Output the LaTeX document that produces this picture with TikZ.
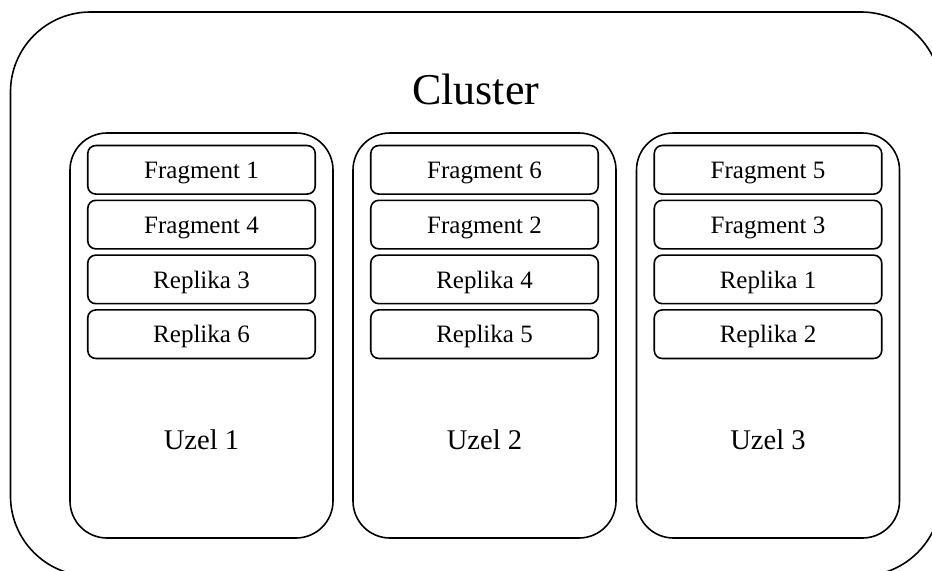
\documentclass[tikz,border=0pt]{standalone}
\usepackage{fontspec}
\setmainfont{Liberation Serif}
\begin{document}
\begin{tikzpicture}[x=0.75pt,y=-0.75pt,
  outerbox/.style={draw, line width=1.2pt, rounded corners=60pt,
    minimum width=697.9pt, minimum height=423pt, inner sep=0pt},
  uzelbox/.style={draw, line width=1.2pt, rounded corners=27.75pt,
    minimum width=197.25pt, minimum height=303.75pt, inner sep=0pt},
  fragbox/.style={draw, line width=1.2pt, rounded corners=6pt,
    minimum width=170.6pt, minimum height=36.4pt, inner sep=0pt,
    text height=13pt, text depth=0pt,
    font=\fontsize{18.75pt}{22pt}\selectfont},
  titletext/.style={anchor=base, inner sep=0pt,
    font=\fontsize{33pt}{38pt}\selectfont},
  uzeltext/.style={anchor=base, inner sep=0pt,
    font=\fontsize{21.4pt}{25pt}\selectfont}]
\useasboundingbox (0,0) rectangle (932,571);
\clip (0,0) rectangle (932,571);

% cluster frame and title
\node[outerbox] (cluster) at (475.75,294) {};
\path (cluster.north) ++(0,93) node[titletext] (title) {Cluster};

% the three nodes
\node[uzelbox] (u1) at (201.5,335.5) {};
\node[uzelbox] (u2) at (484.5,335.5) {};
\node[uzelbox] (u3) at (768,335.5) {};

\path (u1.north) ++(0,317) node[uzeltext] (t1) {Uzel 1};
\path (u2.north) ++(0,317) node[uzeltext] (t2) {Uzel 2};
\path (u3.north) ++(0,317) node[uzeltext] (t3) {Uzel 3};

% fragments and replicas
\node[fragbox] (a1) at (201.5,169.8) {Fragment 1};
\node[fragbox] (a2) at (201.5,224.6) {Fragment 4};
\node[fragbox] (a3) at (201.5,279.4) {Replika 3};
\node[fragbox] (a4) at (201.5,334.2) {Replika 6};

\node[fragbox] (b1) at (484.5,169.8) {Fragment 6};
\node[fragbox] (b2) at (484.5,224.6) {Fragment 2};
\node[fragbox] (b3) at (484.5,279.4) {Replika 4};
\node[fragbox] (b4) at (484.5,334.2) {Replika 5};

\node[fragbox] (c1) at (768,169.8) {Fragment 5};
\node[fragbox] (c2) at (768,224.6) {Fragment 3};
\node[fragbox] (c3) at (768,279.4) {Replika 1};
\node[fragbox] (c4) at (768,334.2) {Replika 2};
\end{tikzpicture}
\end{document}
